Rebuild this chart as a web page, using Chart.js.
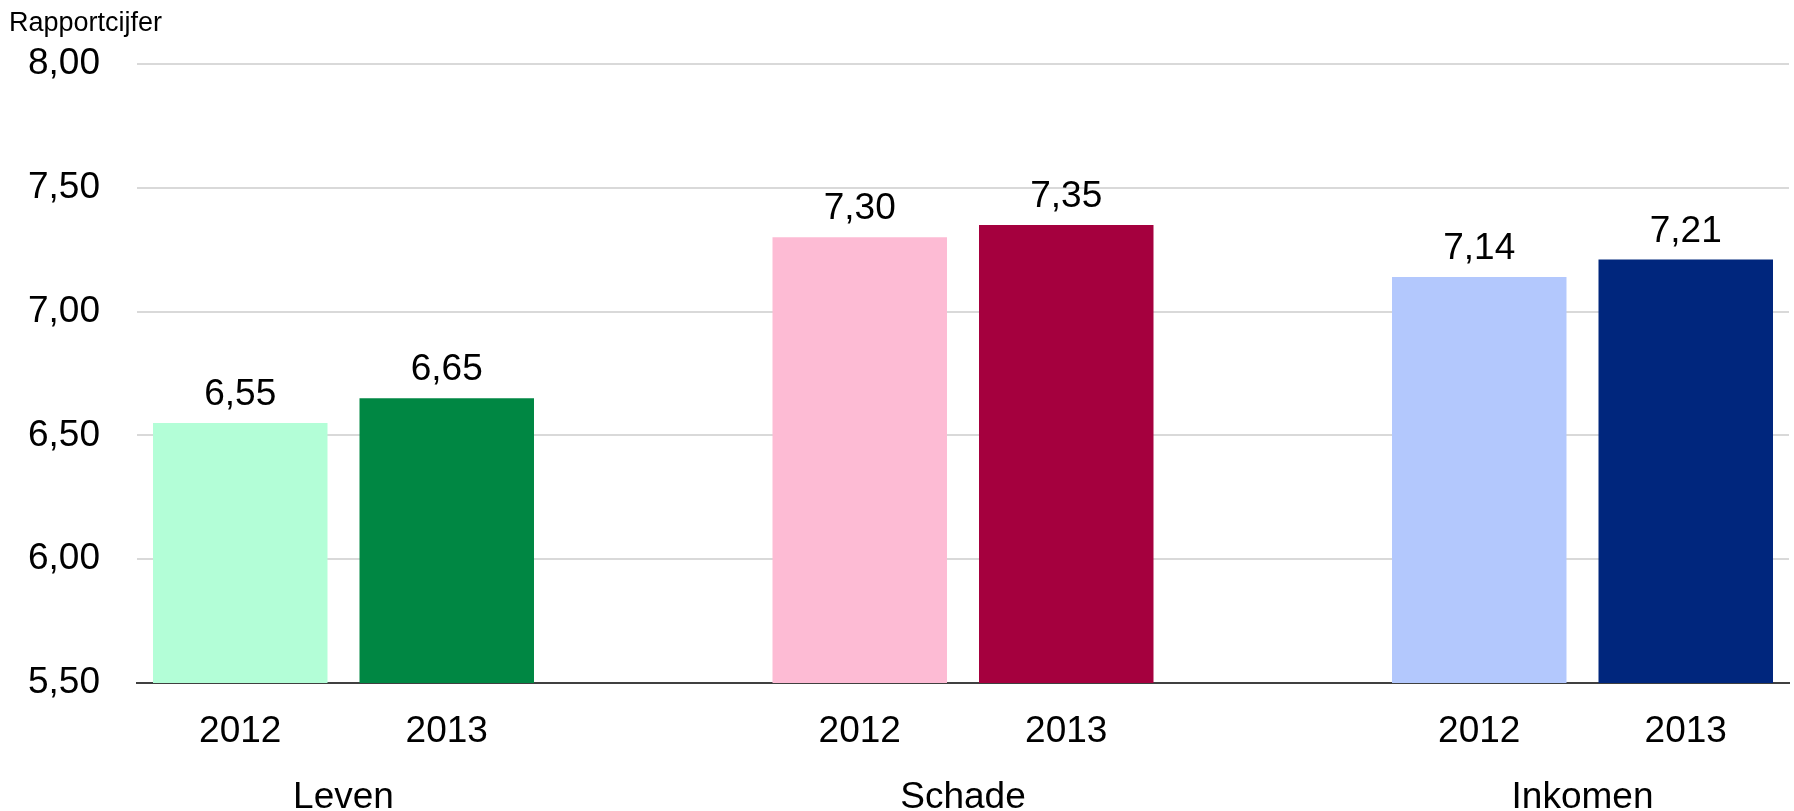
<!DOCTYPE html>
<html lang="nl">
<head>
<meta charset="utf-8">
<title>Rapportcijfer</title>
<script src="https://cdn.jsdelivr.net/npm/chart.js@4.4.1/dist/chart.umd.min.js"></script>
<style>
  html, body { margin: 0; padding: 0; background: #fff; }
  #wrap { width: 1794px; height: 811px; }
</style>
</head>
<body>
<div id="wrap"><canvas id="myChart"></canvas></div>
<script>
const ctx = document.getElementById('myChart');

const groups = ['Leven', 'Schade', 'Inkomen'];
const years = ['2012', '2013'];
const scores2012 = [6.55, 7.30, 7.14];
const scores2013 = [6.65, 7.35, 7.21];
const yTicks = [5.5, 6, 6.5, 7, 7.5, 8];
const colors2012 = ['#b3fed7', '#fdbbd4', '#b3c8fd'];
const colors2013 = ['#008743', '#a5003e', '#00267d'];

const FONT = "'Liberation Sans', Arial, sans-serif";
const SIZE = 37;

// one slot per bar, with an empty slot between the groups
const labels = [];
const values = [];
const barColors = [];
const groupSlots = [];
groups.forEach((g, i) => {
  groupSlots.push([labels.length, labels.length + 1]);
  labels.push(years[0], years[1]);
  values.push(scores2012[i], scores2013[i]);
  barColors.push(colors2012[i], colors2013[i]);
  if (i < groups.length - 1) {
    labels.push('');
    values.push(null);
    barColors.push('transparent');
  }
});

function formatScore(v) {
  return v.toFixed(2).replace('.', ',');
}

const textPlugin = {
  id: 'textPlugin',
  afterDatasetsDraw(chart) {
    const c = chart.ctx;
    const meta = chart.getDatasetMeta(0);
    c.save();
    c.font = SIZE + 'px ' + FONT;
    c.fillStyle = '#000';
    c.textAlign = 'center';
    c.textBaseline = 'alphabetic';
    meta.data.forEach((bar, i) => {
      if (values[i] == null) return;
      c.fillText(formatScore(values[i]), bar.x, bar.y - 18);
    });
    c.restore();
  },
  afterDraw(chart) {
    const c = chart.ctx;
    const xScale = chart.scales.x;
    c.save();
    c.fillStyle = '#000';
    c.font = SIZE + 'px ' + FONT;
    c.textAlign = 'center';
    c.textBaseline = 'alphabetic';
    groups.forEach((g, i) => {
      const [a, b] = groupSlots[i];
      const x = (xScale.getPixelForValue(a) + xScale.getPixelForValue(b)) / 2;
      c.fillText(g, x, chart.chartArea.bottom + 125);
    });

    // axis caption, top left
    c.font = '27px ' + FONT;
    c.textAlign = 'left';
    c.fillText('Rapportcijfer', 9, 31);
    c.restore();
  }
};

new Chart(ctx, {
  type: 'bar',
  data: {
    labels: labels,
    datasets: [{
      data: values,
      backgroundColor: barColors,
      borderWidth: 0,
      barPercentage: 0.845,
      categoryPercentage: 1
    }]
  },
  options: {
    responsive: true,
    maintainAspectRatio: false,
    animation: false,
    layout: {
      padding: { top: 64, right: 5, bottom: 0, left: 0 }
    },
    plugins: {
      legend: false,
      tooltip: { enabled: false },
    },
    scales: {
      x: {
        z: 1,
        grid: { display: false, drawTicks: false },
        border: { display: true, color: '#404040', width: 2 },
        ticks: {
          color: '#000',
          font: { family: FONT, size: SIZE },
          padding: 27,
          maxRotation: 0,
          autoSkip: false
        },
        afterFit(scale) {
          scale.height = 128;
        }
      },
      y: {
        min: yTicks[0],
        max: yTicks[yTicks.length - 1],
        afterBuildTicks(scale) {
          scale.ticks = yTicks.map(v => ({ value: v }));
        },
        grid: { color: '#d9d9d9', lineWidth: 2, drawTicks: false },
        border: { display: false },
        ticks: {
          color: '#000',
          font: { family: FONT, size: SIZE },
          padding: 37,
          callback: v => formatScore(v)
        },
        afterFit(scale) {
          scale.width = 137;
        }
      }
    }
  },
  plugins: [textPlugin]
});
</script>
</body>
</html>
